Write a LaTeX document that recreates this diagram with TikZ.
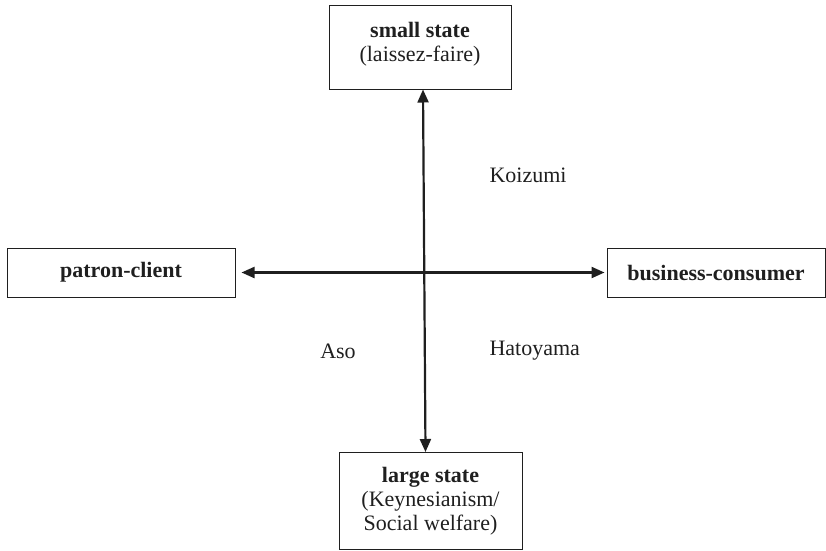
\documentclass[tikz,border=0pt]{standalone}
\usepackage{fontspec}
\setmainfont{Liberation Serif}
\usepackage{tikz}
\usetikzlibrary{arrows.meta}

\begin{document}
\begin{tikzpicture}[x=1pt,y=-1pt,
    every node/.style={font=\fontsize{22}{24}\selectfont,text=black!88},
    axisbox/.style={draw=black!88,line width=1pt,align=center,inner sep=0pt},
    axisline/.style={draw=black!88,line width=2.2pt,
        {Triangle[width=11pt,length=13pt]}-{Triangle[width=11pt,length=13pt]}}]
    \useasboundingbox (0,0) rectangle (826,550);

    % vertical axis: size of the state
    \node[axisbox,minimum width=182pt,minimum height=84pt] (small) at (420,47)
        {\textbf{small state}\\(laissez-faire)\\[-14pt]\mbox{}};
    \node[axisbox,minimum width=183pt,minimum height=97pt] (large) at (430.5,501)
        {\textbf{large state}\\(Keynesianism/\\Social welfare)};

    % horizontal axis: type of linkage
    \node[axisbox,minimum width=228pt,minimum height=49pt] (patron) at (121,272.5)
        {\textbf{patron-client}};
    \node[axisbox,minimum width=218pt,minimum height=49pt] (business) at (716,272.5)
        {\textbf{business-consumer}};

    \draw[axisline] ([xshift=3pt]small.south) -- ([xshift=-5pt]large.north);
    \draw[axisline] ([xshift=6pt]patron.east) -- ([xshift=-2pt]business.west);

    % prime ministers
    \node[anchor=west] (koizumi) at (486,175) {Koizumi};
    \node (aso) at (338,351) {Aso};
    \node[anchor=west] (hatoyama) at (486,351) {Hatoyama};
\end{tikzpicture}
\end{document}
